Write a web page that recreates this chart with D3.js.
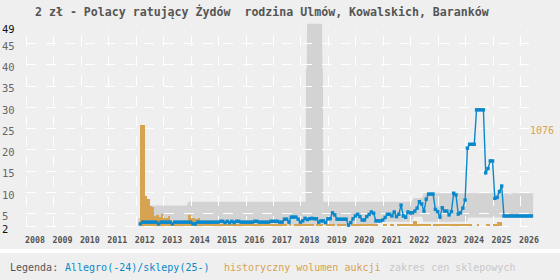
<!DOCTYPE html>
<html>
<head>
<meta charset="utf-8">
<script src="https://cdn.jsdelivr.net/npm/d3@7"></script>
<style>
  body { margin: 0; background: #efefef; }
  svg { display: block; }
  text { font-family: "DejaVu Sans Mono", monospace; }
</style>
</head>
<body>
<div id="chart"></div>
<script>
const chartTitle = "2 zł - Polacy ratujący Żydów  rodzina Ulmów, Kowalskich, Baranków";
const yearTicks = [2008, 2009, 2010, 2011, 2012, 2013, 2014, 2015, 2016, 2017, 2018, 2019, 2020, 2021, 2022, 2023, 2024, 2025, 2026];
const priceTicks = [2, 5, 10, 15, 20, 25, 30, 35, 40, 45, 49];

// one row per year, 12 months each
const seriesYears = [2012, 2013, 2014, 2015, 2016, 2017, 2018, 2019, 2020, 2021, 2022, 2023, 2024, 2025, 2026];
const allegroPrice = [
  [null, null, 2.5, 2.9, 2.9, 2.9, 2.9, 2.9, 2.9, 2.9, 2.5, 2.9],
  [2.9, 2.9, 2.9, 2.9, 2.5, 2.9, 2.9, 2.9, 2.9, 2.9, 2.9, 2.9],
  [2.9, 2.5, 2.5, 2.9, 2.9, 2.9, 2.9, 2.9, 2.9, 2.9, 2.9, 2.9],
  [2.9, 3.1, 3.1, 2.8, 3.1, 2.8, 3.1, 2.8, 3.1, 3.1, 2.9, 2.9],
  [2.9, 2.9, 2.9, 2.9, 3.1, 3.1, 2.9, 2.9, 2.9, 2.9, 2.9, 3.1],
  [3.1, 3.1, 3.1, 2.9, 2.9, 3.6, 3.6, 2.9, 4.1, 4.1, 4.1, 3.6],
  [2.9, 3.2, 3.8, 3.5, 3.7, 3.8, 3.7, 3.7, 2.9, 3.2, 3.2, 2.8],
  [3.7, 3.7, 5.1, 4.6, 3.6, 3.6, 3.6, 3.6, 3.6, 2.2, 2.8, 3.7],
  [4.35, 4.75, 4.2, 3.4, 3.4, 4.2, 4.7, 5.3, 5.0, 3.2, 3.2, 3.2],
  [3.4, 4.0, 4.75, 4.75, 4.35, 5.3, 4.2, 4.75, 6.9, 4.35, 4.05, 5.3],
  [5.1, 5.1, 5.5, 6.2, 7.7, 7.2, 5.5, 8.3, 9.5, 9.5, 9.5, 5.9],
  [5.4, 4.1, 6.3, 5.5, 5.5, 4.6, 5.4, 9.7, 9.3, 4.8, 5.1, 6.2],
  [8.1, 20.3, 21.2, 21.2, 21.2, 29.3, 29.3, 29.3, 29.3, 14.5, 15.5, 17.3],
  [17.3, 8.5, 8.7, 10.1, 11.4, 4.35, 4.35, 4.35, 4.35, 4.35, 4.35, 4.35],
  [4.35, 4.35, 4.35, 4.35, 4.35, 4.35, null, null, null, null, null, null]
];
const auctionVolume = [
  [0, 0, 1076, 1076, 320, 288, 213, 199, 107, 117, 96, 128],
  [85, 85, 107, 64, 20, 20, 20, 20, 20, 20, 20, 117],
  [85, 85, 75, 85, 20, 20, 20, 20, 20, 20, 20, 20],
  [20, 20, 20, 20, 20, 20, 20, 20, 20, 20, 20, 20],
  [20, 20, 20, 20, 20, 20, 20, 20, 20, 20, 20, 20],
  [20, 20, 20, 20, 20, 20, 0, 20, 0, 20, 20, 20],
  [20, 20, 20, 20, 20, 20, 0, 20, 20, 20, 0, 20],
  [20, 20, 20, 0, 20, 20, 20, 20, 0, 0, 20, 20],
  [20, 20, 20, 20, 20, 20, 20, 20, 20, 20, 0, 0],
  [20, 20, 0, 20, 20, 0, 20, 20, 20, 20, 20, 20],
  [20, 53, 53, 20, 20, 20, 20, 20, 20, 0, 20, 20],
  [20, 20, 20, 20, 20, 20, 20, 20, 20, 20, 20, 20],
  [20, 20, 20, 0, 0, 20, 0, 0, 0, 20, 20, 0],
  [20, 20, 40, 40, 0, 0, 0, 0, 0, 0, 0, 0],
  [0, 0, 0, 0, 0, 0, 0, 0, 0, 0, 0, 0]
];
const volumeMax = 1076;

// shop price range: [year, low, high]
const shopRange = [
  [2012.08, 2.0, 3.8], [2012.24, 2.0, 3.8], [2012.26, 2.0, 6.8],
  [2013.86, 2.0, 6.8], [2013.91, 2.0, 7.7],
  [2018.19, 2.2, 7.7], [2018.20, 2.2, 38.9], [2018.23, 2.2, 38.9], [2018.24, 2.2, 49.5],
  [2018.79, 2.2, 49.5], [2018.80, 2.2, 38.9], [2018.82, 2.2, 38.9], [2018.83, 2.2, 7.7],
  [2020.75, 2.2, 7.7], [2020.78, 3.0, 7.7],
  [2022.06, 3.0, 7.7], [2022.12, 4.2, 8.6], [2022.44, 4.2, 8.6], [2022.48, 3.0, 9.7],
  [2024.07, 3.0, 9.7], [2024.11, 4.0, 9.7],
  [2025.30, 4.0, 9.7], [2025.36, 4.0, 9.2], [2025.45, 4.0, 9.7],
  [2025.60, 4.0, 9.7], [2025.64, 4.0, 9.2], [2025.70, 4.0, 9.7],
  [2026.48, 4.0, 9.7]
];

const legendLabels = ["Legenda:", "Allegro(-24)/sklepy(25-)", "historyczny wolumen aukcji", "zakres cen sklepowych"];
const legendColors = ["#555555", "#0a88cc", "#d6a353", "#c8c8c8"];

class PriceChart {
  constructor(selector, w, h) {
    this.w = w;
    this.h = h;
    this.blue = "#0a88cc";
    this.orange = "#d6a353";
    this.band = "#d3d3d3";
    this.svg = d3.select(selector).html("")
      .append("svg")
      .attr("width", w)
      .attr("height", h);
    this.x = d3.scaleLinear().domain([2008, 2026]).range([26, 520]);
    this.y = d3.scaleLinear().domain([2, 49]).range([226, 26]);
    this.yVol = d3.scaleLinear().domain([0, volumeMax]).range([226, 125]);
  }

  monthly(table) {
    const out = [];
    table.forEach((row, i) => {
      row.forEach((v, k) => {
        if (v !== null) out.push({ t: seriesYears[i] + k / 12, v: v });
      });
    });
    return out;
  }

  draw() {
    const svg = this.svg, x = this.x, y = this.y;

    svg.append("rect").attr("width", this.w).attr("height", this.h).attr("fill", "#efefef");
    svg.append("rect").attr("x", 0).attr("y", 249).attr("width", this.w).attr("height", 4).attr("fill", "#ffffff");

    svg.append("text")
      .attr("x", 35).attr("y", 16)
      .attr("font-size", 11.6).attr("font-weight", "bold")
      .attr("fill", "#555")
      .style("white-space", "pre")
      .text(chartTitle);

    // shop range band
    const area = d3.area()
      .x(d => x(d[0]))
      .y0(d => y(d[1]))
      .y1(d => y(d[2]));
    svg.append("path").datum(shopRange).attr("d", area).attr("fill", this.band);

    // grid
    const grid = svg.append("g").attr("stroke", "#fff").attr("stroke-width", 1)
      .attr("shape-rendering", "crispEdges");
    grid.selectAll(".h").data(priceTicks.filter(t => t !== 49)).enter().append("line")
      .attr("x1", 26).attr("x2", 536)
      .attr("y1", d => Math.round(y(d)) + 0.5).attr("y2", d => Math.round(y(d)) + 0.5)
      .attr("stroke-dasharray", "10,9.7");
    grid.selectAll(".v").data(yearTicks).enter().append("line")
      .attr("x1", d => Math.round(x(d)) + 0.5).attr("x2", d => Math.round(x(d)) + 0.5)
      .attr("y1", 226).attr("y2", 25)
      .attr("stroke-dasharray", "10,10");

    // auction volume bars
    const vols = this.monthly(auctionVolume).filter(d => d.v > 0);
    svg.append("g").attr("fill", this.orange).attr("shape-rendering", "crispEdges")
      .selectAll("rect").data(vols).enter().append("rect")
      .attr("x", d => x(d.t))
      .attr("width", d => x(d.t + 1 / 12) - x(d.t))
      .attr("y", d => this.yVol(d.v))
      .attr("height", d => this.yVol(0) - this.yVol(d.v));

    // allegro price line + markers
    const pts = this.monthly(allegroPrice);
    const line = d3.line().x(d => x(d.t)).y(d => y(d.v));
    svg.append("path").datum(pts).attr("d", line)
      .attr("fill", "none").attr("stroke", this.blue).attr("stroke-width", 1.4);
    const m = 3.4;
    svg.append("g").attr("fill", this.blue)
      .selectAll("rect").data(pts).enter().append("rect")
      .attr("x", d => x(d.t) - m / 2).attr("y", d => y(d.v) - m / 2)
      .attr("width", m).attr("height", m);

    // y labels
    svg.append("g").selectAll("text").data(priceTicks).enter().append("text")
      .attr("x", 2).attr("y", d => y(d) + 6.8)
      .attr("font-size", 10.5)
      .attr("fill", d => (d === 2 || d === 49) ? "#111" : "#666")
      .text(d => d);

    // x labels
    svg.append("g").selectAll("text").data(yearTicks).enter().append("text")
      .attr("x", d => x(d) - 1).attr("y", 242.5)
      .attr("font-size", 8.3).attr("font-weight", "bold")
      .attr("fill", "#555")
      .text(d => d);

    // max volume label
    svg.append("text")
      .attr("x", 530).attr("y", this.yVol(volumeMax) + 8.5)
      .attr("font-size", 10).attr("fill", this.orange)
      .text(volumeMax);

    // legend
    const legendX = [10, 65, 224, 389];
    svg.append("g").selectAll("text").data(legendLabels).enter().append("text")
      .attr("x", (d, i) => legendX[i]).attr("y", 271)
      .attr("font-size", 10)
      .attr("fill", (d, i) => legendColors[i])
      .text(d => d);
  }
}

const chart = new PriceChart("#chart", 560, 280);
chart.draw();
</script>
</body>
</html>
